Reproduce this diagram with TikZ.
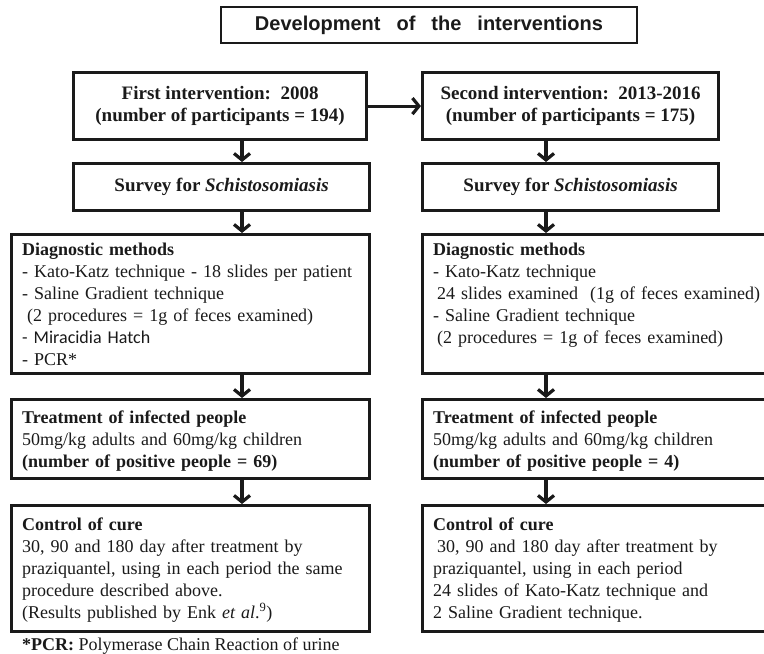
\documentclass[tikz,border=0pt]{standalone}
\usepackage{fontspec}
\setmainfont{Liberation Serif}
\newfontfamily\titlefont{Liberation Sans}
\newfontfamily\calfont{Carlito}
\usetikzlibrary{arrows.meta,calc}
\definecolor{ink}{HTML}{1A1A1A}
\begin{document}
\begin{tikzpicture}[x=1pt,y=-1pt,
  box/.style={draw=ink, line width=3.2pt, inner sep=0pt, anchor=north west},
  arr/.style={draw=ink, line width=3.2pt, -{Straight Barb[length=6.5pt,width=16pt]}},
  body/.style={inner sep=0pt, anchor=base west, align=left, text=ink,
    font=\fontsize{18}{22}\selectfont},
  headtxt/.style={inner sep=0pt, align=center, text=ink,
    font=\fontsize{19}{22}\selectfont\bfseries}]
\useasboundingbox (0,0) rectangle (764,654);
\clip (0,0) rectangle (764,654);
\fill[white] (0,0) rectangle (764,654);
\coordinate (colL) at (242,0);
\coordinate (colR) at (546,0);
% title
\node[draw=ink, line width=2.4pt, minimum width=416pt, minimum height=36pt, inner sep=0pt,
  text=ink, font=\titlefont\fontsize{20}{24}\selectfont\bfseries] (title) at (429,25)
  {Development\hspace{16pt}of\hspace{16pt}the\hspace{16pt}interventions};
% top boxes
\node[box, minimum width=293pt, minimum height=67pt] (b1) at (72,71) {};
\node[box, minimum width=296pt, minimum height=67pt] (b2) at (421,71) {};
\node[headtxt] (b1t) at (b1.center) {First intervention:\ \ 2008\\(number of participants = 194)};
\node[headtxt] (b2t) at (b2.center) {Second intervention:\ \ 2013-2016\\(number of participants = 175)};
% survey boxes
\node[box, minimum width=296pt, minimum height=47pt] (s1) at (72,162) {};
\node[box, minimum width=296pt, minimum height=47pt] (s2) at (421,162) {};
\node[headtxt] (s1t) at (s1.center) {Survey for \textit{Schistosomiasis}};
\node[headtxt] (s2t) at (s2.center) {Survey for \textit{Schistosomiasis}};
% diagnostic boxes
\node[box, minimum width=358pt, minimum height=139pt] (d1) at (10,233) {};
\node[box, minimum width=360pt, minimum height=139pt] (d2) at (421,233) {};
\node[body, text width=340pt] (d1t) at (22,255)
  {\textbf{Diagnostic methods}\\
   - Kato-Katz technique - 18 slides per patient\\
   - Saline Gradient technique\\
   \hspace*{5pt}(2 procedures = 1g of feces examined)\\
   {\calfont - Miracidia Hatch}\\
   - PCR*};
\node[body, text width=326pt] (d2t) at (433,255)
  {\textbf{Diagnostic methods}\\
   - Kato-Katz technique\\
   \mbox{\hspace*{4pt}24 slides examined\ \ (1g of feces examined)}\\
   - Saline Gradient technique\\
   \hspace*{4pt}(2 procedures = 1g of feces examined)};
% treatment boxes
\node[body, text width=340pt] (t1t) at (22,423)
  {\textbf{Treatment of infected people}\\
   50mg/kg adults and 60mg/kg children\\
   \textbf{(number of positive people = 69)}};
\node[box, minimum width=358pt, minimum height=79pt] (t1) at (10,398) {};
\node[box, minimum width=360pt, minimum height=79pt] (t2) at (421,398) {};
\node[body, text width=326pt] (t2t) at (433,423)
  {\textbf{Treatment of infected people}\\
   50mg/kg adults and 60mg/kg children\\
   \textbf{(number of positive people = 4)}};
% control boxes
\node[box, minimum width=358pt, minimum height=126pt] (c1) at (10,504) {};
\node[box, minimum width=360pt, minimum height=126pt] (c2) at (421,504) {};
\node[body, text width=340pt] (c1t) at (22,530)
  {\textbf{Control of cure}\\
   30, 90 and 180 day after treatment by\\
   praziquantel, using in each period the same\\
   procedure described above.\\
   (Results published by Enk \textit{et al}.\textsuperscript{9})};
\node[body, text width=326pt] (c2t) at (433,530)
  {\textbf{Control of cure}\\
   \hspace*{4pt}30, 90 and 180 day after treatment by\\
   praziquantel, using in each period\\
   24 slides of Kato-Katz technique and\\
   2 Saline Gradient technique.};
% footnote
\node[body] (fn) at (22,650) {\textbf{*PCR:} Polymerase Chain Reaction of urine};
% arrows
\draw[arr] (b1.east) -- (b2.west);
\draw[arr] (b1.south -| colL) -- (s1.north -| colL);
\draw[arr] (s1.south -| colL) -- (d1.north -| colL);
\draw[arr] (d1.south -| colL) -- (t1.north -| colL);
\draw[arr] (t1.south -| colL) -- (c1.north -| colL);
\draw[arr] (b2.south -| colR) -- (s2.north -| colR);
\draw[arr] (s2.south -| colR) -- (d2.north -| colR);
\draw[arr] (d2.south -| colR) -- (t2.north -| colR);
\draw[arr] (t2.south -| colR) -- (c2.north -| colR);
\end{tikzpicture}
\end{document}
